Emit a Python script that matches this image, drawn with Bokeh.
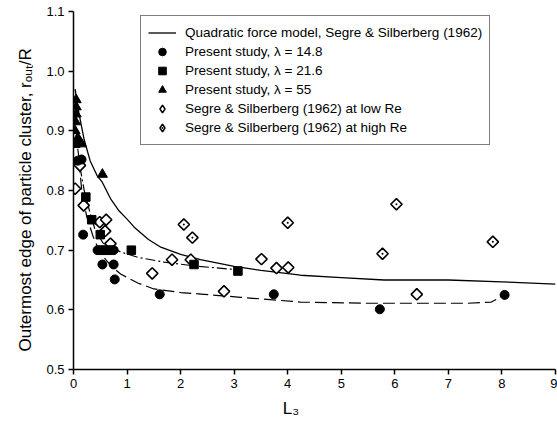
import math
from bokeh.plotting import figure
from bokeh.models import Legend, LegendItem, FixedTicker, Range1d
from bokeh.embed import file_html
from bokeh.resources import INLINE

# ---- data ----
circ_x = [0.08, 0.15, 0.18, 0.45, 0.5, 0.55, 0.6, 0.65, 0.7, 0.75, 0.54, 0.75, 0.77, 1.61, 3.74, 5.72, 8.05]
circ_y = [0.85, 0.852, 0.726, 0.70, 0.70, 0.70, 0.70, 0.70, 0.70, 0.70, 0.676, 0.676, 0.651, 0.626, 0.626, 0.601, 0.625]

sq_x = [0.23, 0.34, 0.50, 1.08, 2.25, 3.07]
sq_y = [0.789, 0.751, 0.726, 0.70, 0.676, 0.665]

tri_x = [0.05, 0.05, 0.05, 0.04, 0.03, 0.08, 0.12, 0.15, 0.03, 0.54]
tri_y = [0.952, 0.94, 0.928, 0.915, 0.90, 0.888, 0.882, 0.878, 0.877, 0.827]

low_x = [0.03, 0.12, 0.19, 0.49, 0.61, 0.59, 0.69, 1.47, 1.84, 2.19, 2.81, 3.51, 3.79, 4.01, 6.41]
low_y = [0.803, 0.842, 0.775, 0.747, 0.751, 0.732, 0.711, 0.661, 0.684, 0.684, 0.631, 0.685, 0.670, 0.671, 0.626]

high_x = [2.06, 2.22, 4.00, 5.77, 6.03, 7.83]
high_y = [0.743, 0.721, 0.746, 0.694, 0.777, 0.714]

model_x = [0.03, 0.1, 0.2, 0.31, 0.44, 0.53, 0.7, 0.84, 1.0, 1.15, 1.4, 1.63, 2.0, 2.37, 3.0, 3.5, 4.24, 5.0, 5.8, 7.0, 8.0, 9.0]
model_y = [0.97, 0.93, 0.885, 0.85, 0.825, 0.815, 0.785, 0.767, 0.752, 0.737, 0.718, 0.705, 0.693, 0.684, 0.673, 0.666, 0.658, 0.654, 0.650, 0.650, 0.647, 0.643]

dashdot_x = [0.08, 0.12, 0.2, 0.28, 0.4, 0.55, 0.88, 1.2, 1.69, 2.31, 3.1]
dashdot_y = [0.87, 0.84, 0.80, 0.772, 0.735, 0.712, 0.697, 0.688, 0.68, 0.673, 0.667]

dashed_x = [0.1, 0.16, 0.25, 0.37, 0.5, 0.72, 0.88, 1.2, 1.5, 2.0, 2.44, 3.12, 4.24, 5.5, 7.36, 7.8, 8.05]
dashed_y = [0.85, 0.795, 0.755, 0.722, 0.695, 0.672, 0.66, 0.645, 0.635, 0.629, 0.626, 0.621, 0.613, 0.611, 0.611, 0.613, 0.625]

x_ticks = [0, 1, 2, 3, 4, 5, 6, 7, 8, 9]
y_ticks = [0.5, 0.6, 0.7, 0.8, 0.9, 1.0, 1.1]
y_tick_labels = ["0.5", "0.6", "0.7", "0.8", "0.9", "1.0", "1.1"]

x_title = "L\u2083"
y_title = "Outermost edge of particle cluster, r\u2092\u1d64\u209c/R"

legend_labels = [
    "Quadratic force model, Segre & Silberberg (1962)",
    "Present study, \u03bb = 14.8",
    "Present study, \u03bb = 21.6",
    "Present study, \u03bb = 55",
    "Segre & Silberberg (1962) at low Re",
    "Segre & Silberberg (1962) at high Re",
]

FONT = "Liberation Sans"
NBSP = "\u00a0"

p = figure(width=557, height=424, output_backend="svg", toolbar_location=None,
           x_range=Range1d(0, 9), y_range=Range1d(0.5, 1.1),
           min_border_left=73, min_border_right=2, min_border_top=11, min_border_bottom=55)
p.outline_line_color = None
p.xgrid.visible = False
p.ygrid.visible = False

for ax in (p.xaxis[0], p.yaxis[0]):
    ax.axis_line_width = 1.5
    ax.axis_line_color = "black"
    ax.major_tick_line_width = 1.5
    ax.major_tick_line_color = "black"
    ax.major_tick_out = 5
    ax.major_tick_in = 0
    ax.minor_tick_out = 0
    ax.minor_tick_in = 0
    ax.major_label_text_font = FONT
    ax.major_label_text_font_size = "13px"
    ax.major_label_text_color = "black"
    ax.major_label_standoff = 4
    ax.axis_label_text_font = FONT
    ax.axis_label_text_font_size = "17px"
    ax.axis_label_text_font_style = "normal"
    ax.axis_label_text_color = "black"

p.xaxis.ticker = FixedTicker(ticks=x_ticks, minor_ticks=[])
p.yaxis.ticker = FixedTicker(ticks=y_ticks, minor_ticks=[])
p.yaxis.major_label_overrides = {t: s for t, s in zip(y_ticks, y_tick_labels)}
# trailing non-breaking spaces nudge the centred titles to where the reference has them
p.xaxis.axis_label = x_title + NBSP * 10
p.yaxis.axis_label = y_title + NBSP * 4
p.xaxis.axis_label_standoff = 8
p.yaxis.axis_label_standoff = 8

r_model = p.line(model_x, model_y, line_color="black", line_width=1.3)
p.line(dashdot_x, dashdot_y, line_color="black", line_width=1.2, line_dash="10 3 2 3")
p.line(dashed_x, dashed_y, line_color="black", line_width=1.2, line_dash="12 5")

# legend keys for the diamonds (legend markers ignore glyph angle); they sit hidden
# underneath the first point of each diamond series
r_low_key = p.scatter(low_x[:1], low_y[:1], marker="diamond", size=9, fill_color="white",
                      line_color="black", line_width=1.5)
r_high_key = p.scatter(high_x[:1], high_y[:1], marker="diamond_dot", size=9, fill_color="white",
                       line_color="black", line_width=1.5)

p.scatter(low_x, low_y, marker="square", angle=math.pi / 4, size=8,
          fill_color="white", line_color="black", line_width=1.6)
p.scatter(high_x, high_y, marker="square_dot", angle=math.pi / 4, size=8,
          fill_color="white", line_color="black", line_width=1.6)
r_circ = p.scatter(circ_x, circ_y, marker="circle", size=9, color="black")
r_sq = p.scatter(sq_x, sq_y, marker="square", size=8.5, color="black")
r_tri = p.scatter(tri_x, tri_y, marker="triangle", size=10, color="black")

legend = Legend(items=[
    LegendItem(label=legend_labels[0], renderers=[r_model]),
    LegendItem(label=legend_labels[1], renderers=[r_circ]),
    LegendItem(label=legend_labels[2], renderers=[r_sq]),
    LegendItem(label=legend_labels[3], renderers=[r_tri]),
    LegendItem(label=legend_labels[4], renderers=[r_low_key]),
    LegendItem(label=legend_labels[5], renderers=[r_high_key]),
], location=(67, 224), padding=7, spacing=0, margin=0,
    glyph_width=28, glyph_height=19, label_height=19, label_standoff=9,
    label_text_font=FONT, label_text_font_size="13.5px", label_text_color="black",
    border_line_color="black", border_line_width=1.5, background_fill_alpha=1.0)
p.add_layout(legend)

open("out.html", "w").write(file_html(p, INLINE))
